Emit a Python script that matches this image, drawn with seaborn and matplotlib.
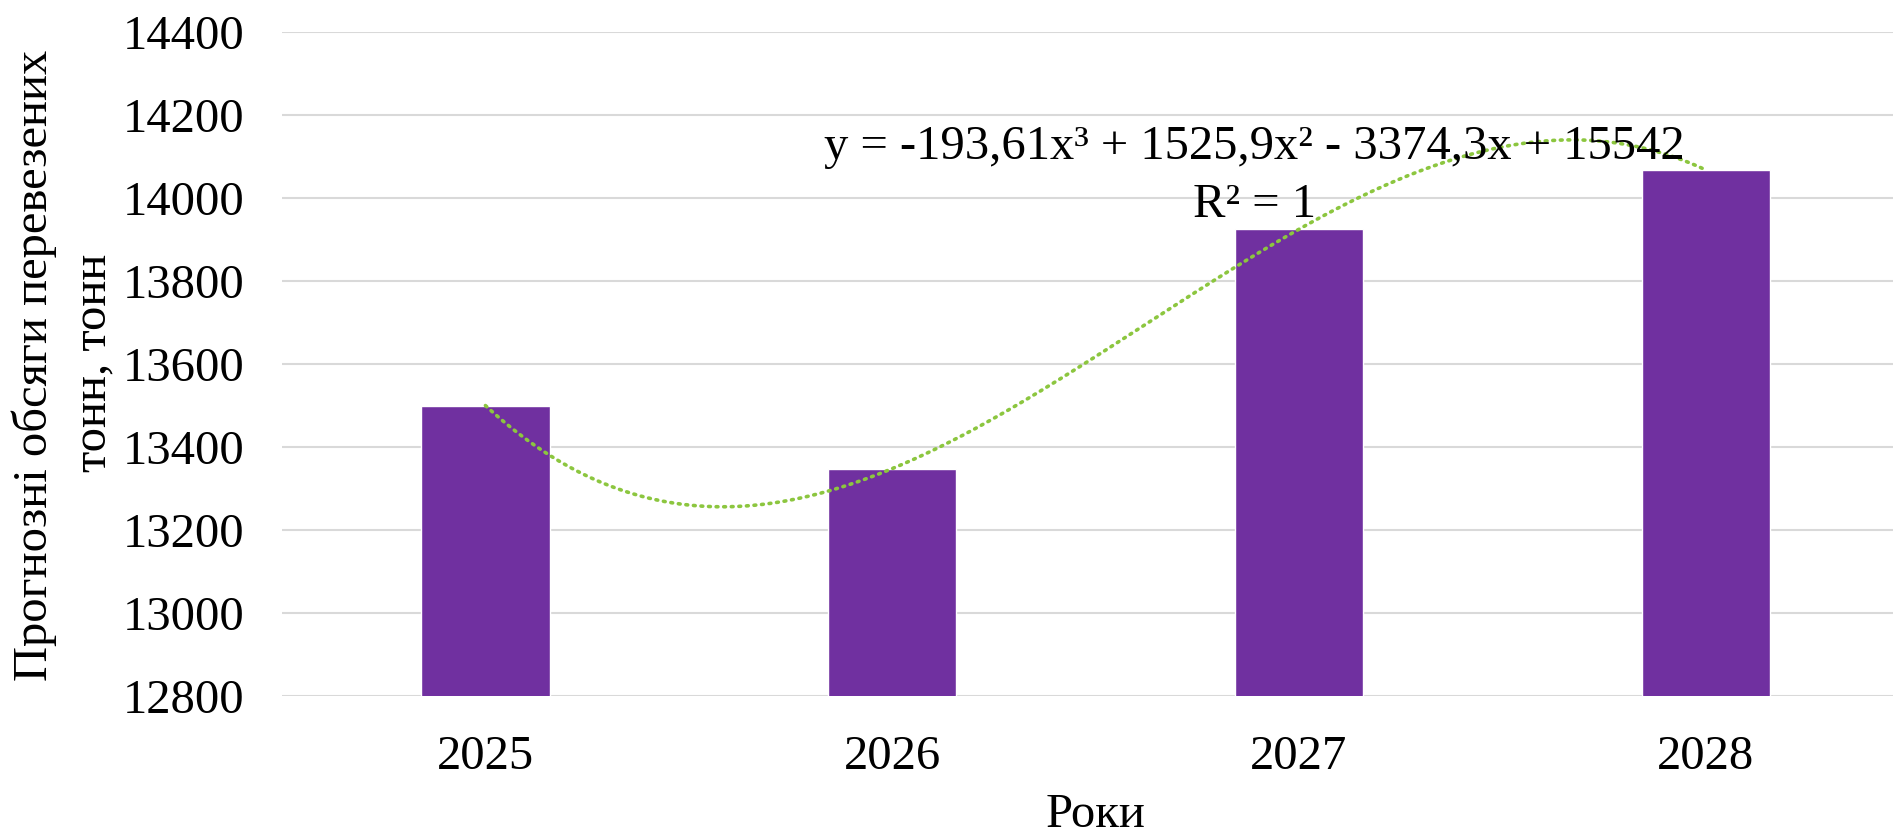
import seaborn as sns
import matplotlib.pyplot as plt
import pandas as pd
import numpy as np

# Forecast data
years = ['2025', '2026', '2027', '2028']
volumes = [13500, 13348, 13925, 14068]

df = pd.DataFrame({'year': years, 'volume': volumes})

sns.set_style('white')
plt.rcParams['font.family'] = ['Liberation Serif', 'DejaVu Serif']
plt.rcParams['text.color'] = 'black'
plt.rcParams['axes.labelcolor'] = 'black'
plt.rcParams['xtick.color'] = 'black'
plt.rcParams['ytick.color'] = 'black'

fig = plt.figure(figsize=(18.93, 8.35), dpi=100)
ax = fig.add_axes([0.149, 0.1665, 0.8595, 0.795])

sns.barplot(data=df, x='year', y='volume', color='#7030A0', width=0.315,
            saturation=1, ax=ax, zorder=2)

# cubic trendline through the bars (Excel style, x = 1..4)
xs = np.arange(1, len(volumes) + 1)
coef = np.polyfit(xs, volumes, 3)
xf = np.linspace(1, len(volumes), 300)
ax.plot(xf - 1, np.polyval(coef, xf), color='#8CC63F', lw=2.6,
        linestyle=(0, (0.5, 1.6)), dash_capstyle='round', zorder=3)

fs = 35
ax.text(1.89, 14094, 'y = -193,61x³ + 1525,9x² - 3374,3x + 15542',
        ha='center', va='baseline', fontsize=fs, zorder=4)
ax.text(1.89, 13954, 'R² = 1', ha='center', va='baseline', fontsize=fs, zorder=4)

ax.set_ylim(12800, 14400)
ax.set_xlim(-0.5, 3.5)
ax.set_yticks(np.arange(12800, 14401, 200))
ax.yaxis.grid(True, color='#D9D9D9', lw=1.5, zorder=0)
ax.set_axisbelow(True)
for s in ax.spines.values():
    s.set_visible(False)

ax.tick_params(axis='y', labelsize=fs, length=0, pad=27)
ax.tick_params(axis='x', labelsize=fs, length=0, pad=28)
ax.set_xlabel('Роки', fontsize=fs, labelpad=10)
ax.set_ylabel('')

fig.text(0.018, 0.563, 'Прогнозні обсяги перевезених', rotation=90,
         ha='center', va='center', fontsize=fs)
fig.text(0.050, 0.566, 'тонн, тонн', rotation=90,
         ha='center', va='center', fontsize=fs)

fig.savefig('out.png', dpi=100)
